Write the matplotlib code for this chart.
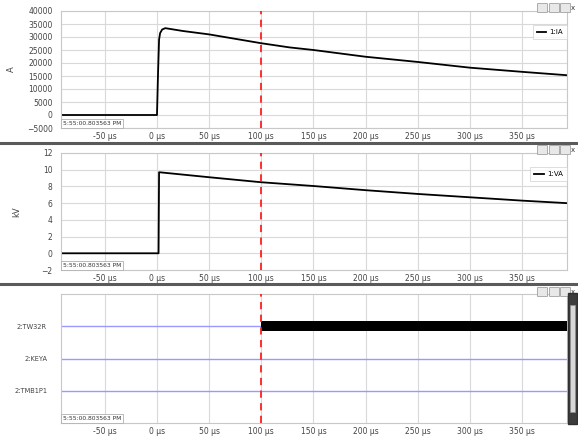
import matplotlib.pyplot as plt
import matplotlib.patches as mpatches
from matplotlib.lines import Line2D

# current trace, 1:IA
t_current = [-92, 0, 1, 2, 3, 5, 8, 25, 50, 75, 100, 127, 150, 200, 250, 300, 350, 393]
current_a = [0, 0, 16000, 29000, 31500, 32900, 33400, 32300, 31000, 29300, 27600,
             26000, 25000, 22400, 20400, 18200, 16600, 15300]

# voltage trace, 1:VA
t_voltage = [-92, 1.5, 2, 50, 100, 150, 200, 250, 300, 350, 393]
voltage_kv = [0, 0, 9.7, 9.1, 8.5, 8.05, 7.55, 7.1, 6.7, 6.3, 6.0]

# digital channels
digital_names = ['2:TMB1P1', '2:KEYA', '2:TW32R']
digital_on = [None, None, (100, 393)]

cursor_us = 100
xlim = (-92, 393)
xticks = [-50, 0, 50, 100, 150, 200, 250, 300, 350]
stamp = '5:55:00.803563 PM'

W, H = 578, 436
fig = plt.figure(figsize=(W / 100, H / 100), dpi=100)
fig.patch.set_facecolor('white')
plt.rcParams['font.family'] = 'DejaVu Sans'

grey_txt = '#444444'
grid_c = '#d9d9d9'


def box(top, bottom):
    return [61 / W, 1 - bottom / H, (567 - 61) / W, (bottom - top) / H]


def style(ax):
    ax.set_xlim(*xlim)
    ax.set_xticks(xticks)
    ax.set_xticklabels([f'{v} µs' for v in xticks])
    ax.tick_params(length=0, labelsize=5.5, colors=grey_txt, pad=3)
    ax.tick_params(axis='y', pad=6)
    for s in ax.spines.values():
        s.set_color('#c8c8c8')
        s.set_linewidth(0.8)
    ax.grid(True, color=grid_c, linewidth=0.8)
    ax.set_axisbelow(True)
    ax.axvline(cursor_us, color='#ff2020', linestyle=(0, (4, 3)), linewidth=1.3, zorder=5)
    ax.text(0.004, 0.015, stamp, transform=ax.transAxes, fontsize=4.3, color='#333333',
            va='bottom', ha='left', zorder=6,
            bbox=dict(boxstyle='square,pad=0.35', fc='white', ec='#b0b0b0', lw=0.6))


def buttons(top):
    for i, x0 in enumerate([538, 550, 561]):
        fig.add_artist(mpatches.FancyBboxPatch(
            (x0 / W, 1 - (top + 8) / H), 9 / W, 8 / H, boxstyle='round,pad=0.001',
            transform=fig.transFigure, fc='#e8e8e8', ec='#a0a0a0', lw=0.6))
    fig.text(573 / W, 1 - (top + 4) / H, 'x', fontsize=5, color='#333333',
             ha='center', va='center')


# panel 1: current
ax1 = fig.add_axes(box(11, 128))
ax1.plot(t_current, current_a, color='black', linewidth=1.3, label='1:IA')
ax1.set_ylim(-5000, 40000)
ax1.set_yticks(range(-5000, 40001, 5000))
ax1.set_ylabel('A', fontsize=6, color=grey_txt)
ax1.yaxis.set_label_coords(-0.09, 0.5)
style(ax1)

# panel 2: voltage
ax2 = fig.add_axes(box(153, 270))
ax2.plot(t_voltage, voltage_kv, color='black', linewidth=1.3, label='1:VA')
ax2.set_ylim(-2, 12)
ax2.set_yticks(range(-2, 13, 2))
ax2.set_ylabel('kV', fontsize=6, color=grey_txt)
ax2.yaxis.set_label_coords(-0.078, 0.5)
style(ax2)

for ax in (ax1, ax2):
    leg = ax.legend(loc='upper right', bbox_to_anchor=(1.0, 0.88), borderaxespad=0,
                    fontsize=5, handlelength=1.4, handletextpad=0.4, fancybox=False,
                    borderpad=0.6)
    leg.get_frame().set_edgecolor('#cfcfcf')
    leg.get_frame().set_linewidth(0.6)

# panel 3: digital channels
ax3 = fig.add_axes(box(294, 423))
rows = list(range(1, len(digital_names) + 1))
for r, name, on in zip(rows, digital_names, digital_on):
    ax3.axhline(r, color='#9999ff', linewidth=1.0, zorder=2)
    if on is not None:
        ax3.barh(r, on[1] - on[0], left=on[0], height=0.3, color='black', zorder=3)
ax3.set_ylim(0, 4)
ax3.set_yticks(rows)
ax3.set_yticklabels(digital_names)
style(ax3)
ax3.grid(False, axis='y')
ax3.tick_params(axis='y', labelsize=4.8, pad=10)

# separators between panels
for yy in (143, 284):
    fig.add_artist(Line2D([0, 1], [1 - yy / H] * 2, color='#5a5a5a', linewidth=2.2,
                          transform=fig.transFigure))

for top in (0, 142, 284):
    buttons(top + 4)

# scrollbar on the digital panel
fig.add_artist(mpatches.Rectangle((568 / W, 1 - 424 / H), 9 / W, 131 / H,
                                  transform=fig.transFigure, fc='#3c3c3c', ec='#303030'))
fig.add_artist(mpatches.Rectangle((570 / W, 1 - 412 / H), 5 / W, 107 / H,
                                  transform=fig.transFigure, fc='#d8d8d8', ec='#909090', lw=0.5))

fig.savefig('out.png', dpi=100)
